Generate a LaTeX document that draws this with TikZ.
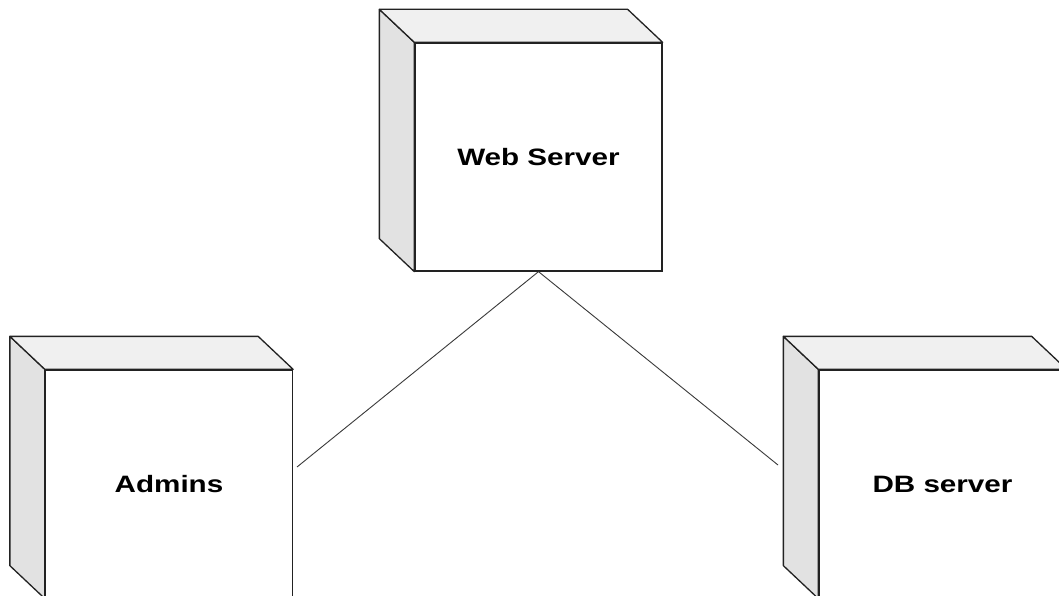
\documentclass[tikz,border=0pt]{standalone}
\usepackage{fontspec}
\setmainfont{Liberation Sans}
\usetikzlibrary{calc}
\definecolor{edge}{HTML}{222222}
\definecolor{topface}{HTML}{F0F0F0}
\definecolor{sideface}{HTML}{E2E2E2}
\definecolor{conn}{HTML}{3A3A3A}
\tikzset{
  depnode/.style={draw=edge, fill=white, line width=1.3pt, rectangle,
    minimum width=247pt, minimum height=228pt, inner sep=0pt,
    font=\fontsize{23.7}{26}\selectfont\bfseries},
  face/.style={draw=edge, line width=1.3pt, line join=round},
  link/.style={draw=conn, line width=0.9pt}
}
\newcommand{\wide}[1]{\scalebox{1.25}[1]{#1}}
\begin{document}
\begin{tikzpicture}[x=1pt,y=-1pt]
\useasboundingbox (0,0) rectangle (1059,596);
\clip (0,0) rectangle (1059,596);
\fill[white] (0,0) rectangle (1059,596);
\node[depnode] (web) at (538.5,157) {\wide{Web Server}};
\node[depnode] (adm) at (169,484) {\wide{Admins}};
\node[depnode] (db) at (942.5,484) {\wide{DB server}};
\foreach \n in {web,adm,db} {
  \draw[face, fill=sideface] (\n.north west) -- ++(-35,-33) -- ($(\n.south west)+(-35,-33)$) -- (\n.south west) -- cycle;
  \draw[face, fill=topface] (\n.north west) -- ++(-35,-33) -- ($(\n.north east)+(-35,-33)$) -- (\n.north east) -- cycle;
}
\coordinate (aend) at (297,467);
\coordinate (dend) at (778,465);
\draw[link] (web.south) -- (aend);
\draw[link] (web.south) -- (dend);
\end{tikzpicture}
\end{document}
